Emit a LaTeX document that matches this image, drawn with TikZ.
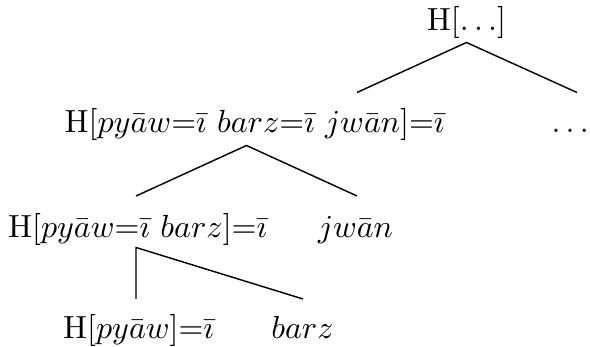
\documentclass[tikz,border=0pt]{standalone}
\begin{document}
\begin{tikzpicture}[x=0.3125pt,y=-0.3125pt,
  lbl/.style={anchor=base,inner sep=0pt},
  branch/.style={line width=0.45pt}]
\useasboundingbox (0,0) rectangle (590,347);
% labels
\node[lbl] (root) at (466.5,31) {$\mathrm{H}[\ldots]$};
\node[lbl] (n1) at (254.5,133) {$\mathrm{H}[py\bar{a}w{=}\bar{\imath}\ barz{=}\bar{\imath}\ jw\bar{a}n]{=}\bar{\imath}$};
\node[lbl,anchor=base east] (dots) at (589.5,133) {$\ldots$};
\node[lbl] (n2) at (137.5,238) {$\mathrm{H}[py\bar{a}w{=}\bar{\imath}\ barz]{=}\bar{\imath}$};
\node[lbl] (jwan) at (355.5,238) {$jw\bar{a}n$};
\node[lbl] (n3) at (138.5,339) {$\mathrm{H}[py\bar{a}w]{=}\bar{\imath}$};
\node[lbl] (barz) at (302.5,339) {$barz$};
% branch points
\coordinate (a0) at (466.5,42.5);
\coordinate (a0l) at (357,92.5);
\coordinate (a0r) at (577,92.5);
\coordinate (a1) at (246.5,145.5);
\coordinate (a1l) at (136,196);
\coordinate (a1r) at (357,196);
\coordinate (a2) at (136,247.5);
\coordinate (a2l) at (136,299);
\coordinate (a2r) at (303,299);
\draw[branch] (a0l) -- (a0) -- (a0r);
\draw[branch] (a1l) -- (a1) -- (a1r);
\draw[branch] (a2l) -- (a2) -- (a2r);
\end{tikzpicture}
\end{document}
